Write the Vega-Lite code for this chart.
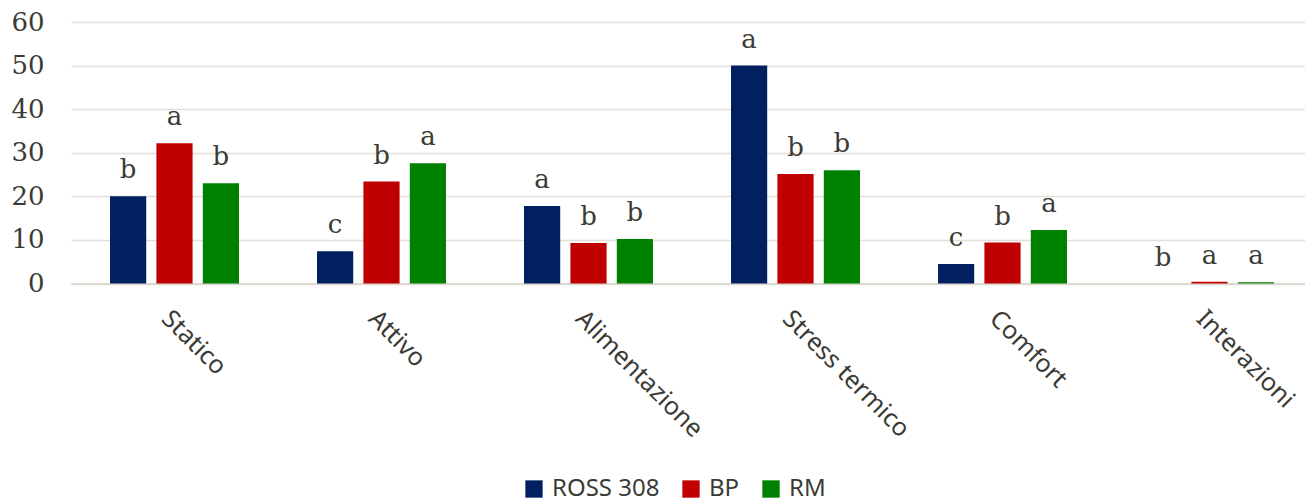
{
  "$schema": "https://vega.github.io/schema/vega-lite/v6.json",
  "width": 1242,
  "height": 261.5,
  "autosize": {"type": "none"},
  "padding": {"left": 71, "top": 22, "right": 0, "bottom": 219},
  "background": "white",
  "config": {"view": {"stroke": null}},
  "data": {
    "values": [
      {"cat": "Statico", "group": "ROSS 308", "value": 20.0, "letter": "b"},
      {"cat": "Statico", "group": "BP", "value": 32.2, "letter": "a"},
      {"cat": "Statico", "group": "RM", "value": 23.0, "letter": "b"},
      {"cat": "Attivo", "group": "ROSS 308", "value": 7.4, "letter": "c"},
      {"cat": "Attivo", "group": "BP", "value": 23.4, "letter": "b"},
      {"cat": "Attivo", "group": "RM", "value": 27.6, "letter": "a"},
      {"cat": "Alimentazione", "group": "ROSS 308", "value": 17.8, "letter": "a"},
      {"cat": "Alimentazione", "group": "BP", "value": 9.3, "letter": "b"},
      {"cat": "Alimentazione", "group": "RM", "value": 10.2, "letter": "b"},
      {"cat": "Stress termico", "group": "ROSS 308", "value": 50.0, "letter": "a"},
      {"cat": "Stress termico", "group": "BP", "value": 25.1, "letter": "b"},
      {"cat": "Stress termico", "group": "RM", "value": 26.0, "letter": "b"},
      {"cat": "Comfort", "group": "ROSS 308", "value": 4.5, "letter": "c"},
      {"cat": "Comfort", "group": "BP", "value": 9.4, "letter": "b"},
      {"cat": "Comfort", "group": "RM", "value": 12.3, "letter": "a"},
      {"cat": "Interazioni", "group": "ROSS 308", "value": 0.0, "letter": "b"},
      {"cat": "Interazioni", "group": "BP", "value": 0.4, "letter": "a"},
      {"cat": "Interazioni", "group": "RM", "value": 0.3, "letter": "a"}
    ]
  },
  "encoding": {
    "x": {
      "field": "cat",
      "type": "nominal",
      "sort": ["Statico", "Attivo", "Alimentazione", "Stress termico", "Comfort", "Interazioni"],
      "scale": {"paddingInner": 0.377, "paddingOuter": 0.1885},
      "axis": {
        "title": null,
        "labelAngle": 45,
        "labelAlign": "left",
        "labelBaseline": "top",
        "labelFont": "Noto Sans",
        "labelFontSize": 25,
        "labelColor": "#3b3b35",
        "labelPadding": 22,
        "labelDx": 9,
        "labelLimit": 400,
        "ticks": false,
        "domainColor": "#dcd9d0",
        "domainWidth": 2
      }
    },
    "xOffset": {
      "field": "group",
      "type": "nominal",
      "sort": ["ROSS 308", "BP", "RM"],
      "scale": {"paddingInner": 0.22, "paddingOuter": 0}
    },
    "y": {
      "field": "value",
      "type": "quantitative",
      "scale": {"domain": [0, 60]},
      "axis": {
        "title": null,
        "values": [0, 10, 20, 30, 40, 50, 60],
        "labelFont": "DejaVu Serif",
        "labelFontSize": 26,
        "labelColor": "#3b3b35",
        "labelPadding": 27,
        "ticks": false,
        "domain": false,
        "gridColor": "#e3e0d8",
        "gridWidth": 1.5
      }
    }
  },
  "layer": [
    {
      "mark": {"type": "bar"},
      "encoding": {
        "color": {
          "field": "group",
          "type": "nominal",
          "sort": ["ROSS 308", "BP", "RM"],
          "scale": {"domain": ["ROSS 308", "BP", "RM"], "range": ["#002060", "#c00000", "#008000"]},
          "legend": {
            "title": null,
            "orient": "none",
            "direction": "horizontal",
            "legendX": 451,
            "legendY": 455,
            "symbolType": "square",
            "symbolSize": 300,
            "symbolStrokeWidth": 0,
            "labelFont": "Noto Sans",
            "labelFontSize": 24,
            "labelColor": "#3b3b35",
            "columnPadding": 19,
            "labelOffset": 6
          }
        }
      }
    },
    {
      "mark": {
        "type": "text",
        "baseline": "alphabetic",
        "dy": -18,
        "font": "DejaVu Serif",
        "fontSize": 26,
        "color": "#3b3b35"
      },
      "encoding": {"text": {"field": "letter"}}
    }
  ]
}
